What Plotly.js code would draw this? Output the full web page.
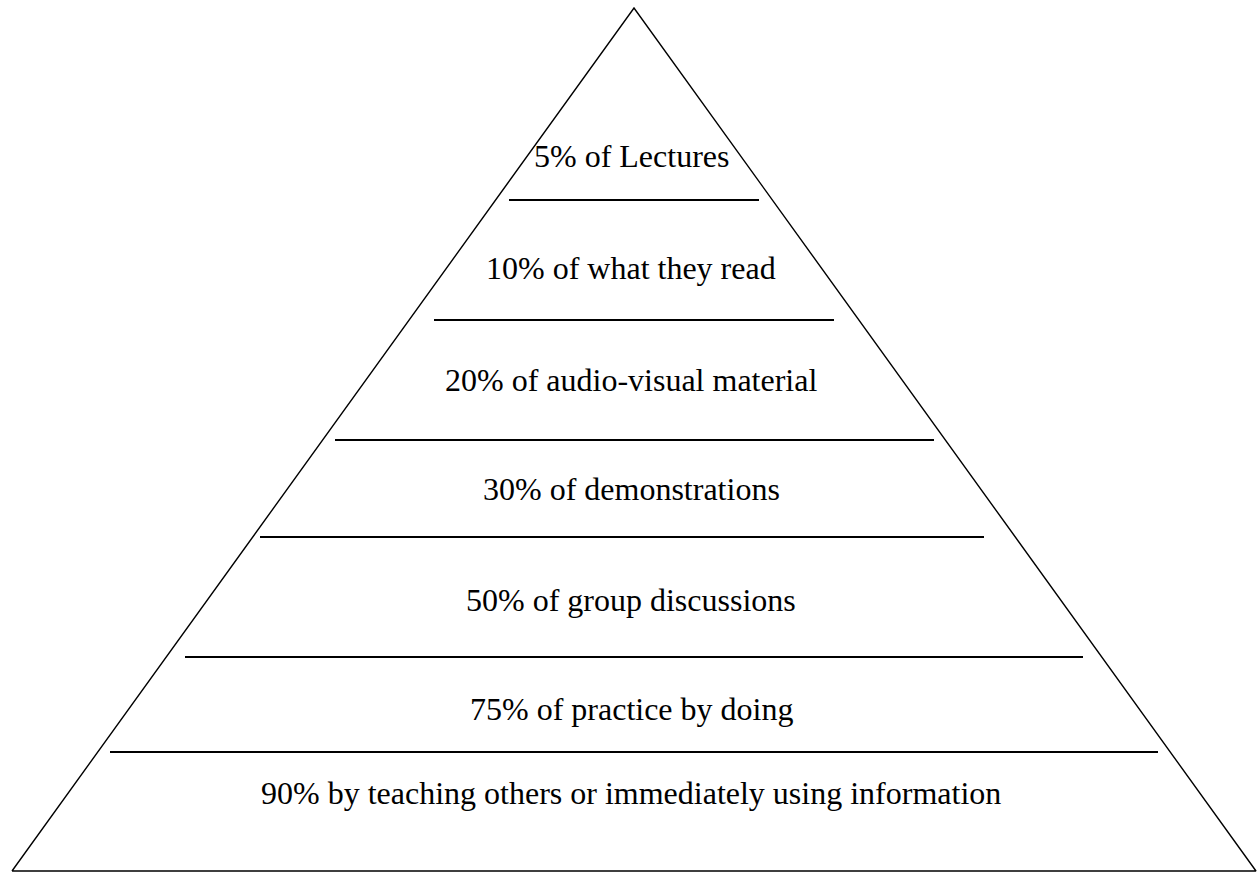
<!DOCTYPE html>
<html>
<head>
<meta charset="utf-8">
<script src="https://cdn.plot.ly/plotly-3.0.1.min.js"></script>
<style>html,body{margin:0;padding:0;background:#fff;}#chart{width:1257px;height:873px;}</style>
</head>
<body>
<div id="chart"></div>
<script>
// Pyramid levels, top to bottom
const retention = [5, 10, 20, 30, 50, 75, 90];
const activities = [
  "of Lectures",
  "of what they read",
  "of audio-visual material",
  "of demonstrations",
  "of group discussions",
  "of practice by doing",
  "by teaching others or immediately using information"
];

// diagram geometry (layout, in diagram units)
const labelY = [156, 268, 380, 489, 600, 709, 793];
const dividerY = [200, 320, 440, 537, 657, 752];
const dividerLeft = [509, 434, 335, 260, 185, 110];
const dividerRight = [759, 834, 934, 984, 1083, 1158];
const apex = {x: 634, y: 8};
const baseY = 871, baseLeft = 12, baseRight = 1256;

const traces = [];
traces.push({
  x: [baseLeft, apex.x, baseRight, baseLeft],
  y: [baseY, apex.y, baseY, baseY],
  mode: 'lines', line: {color: '#000', width: 1.4}, hoverinfo: 'skip', showlegend: false
});
dividerY.forEach((y, i) => {
  traces.push({
    x: [dividerLeft[i], dividerRight[i]],
    y: [y, y],
    mode: 'lines', line: {color: '#000', width: 2.2}, hoverinfo: 'skip', showlegend: false
  });
});

const annotations = retention.map((p, i) => ({
  x: apex.x - 3, y: labelY[i], xref: 'x', yref: 'y',
  text: p + '% ' + activities[i],
  showarrow: false, xanchor: 'center', yanchor: 'middle',
  font: {family: 'Liberation Serif', size: 32, color: '#000'}
}));

const layout = {
  width: 1257, height: 873,
  margin: {l: 0, r: 0, t: 0, b: 0},
  paper_bgcolor: '#fff', plot_bgcolor: '#fff',
  font: {family: 'Liberation Serif'},
  xaxis: {range: [0, 1257], visible: false, fixedrange: true},
  yaxis: {range: [873, 0], visible: false, fixedrange: true},
  annotations: annotations,
  showlegend: false
};
Plotly.newPlot('chart', traces, layout, {staticPlot: true});
</script>
</body>
</html>
